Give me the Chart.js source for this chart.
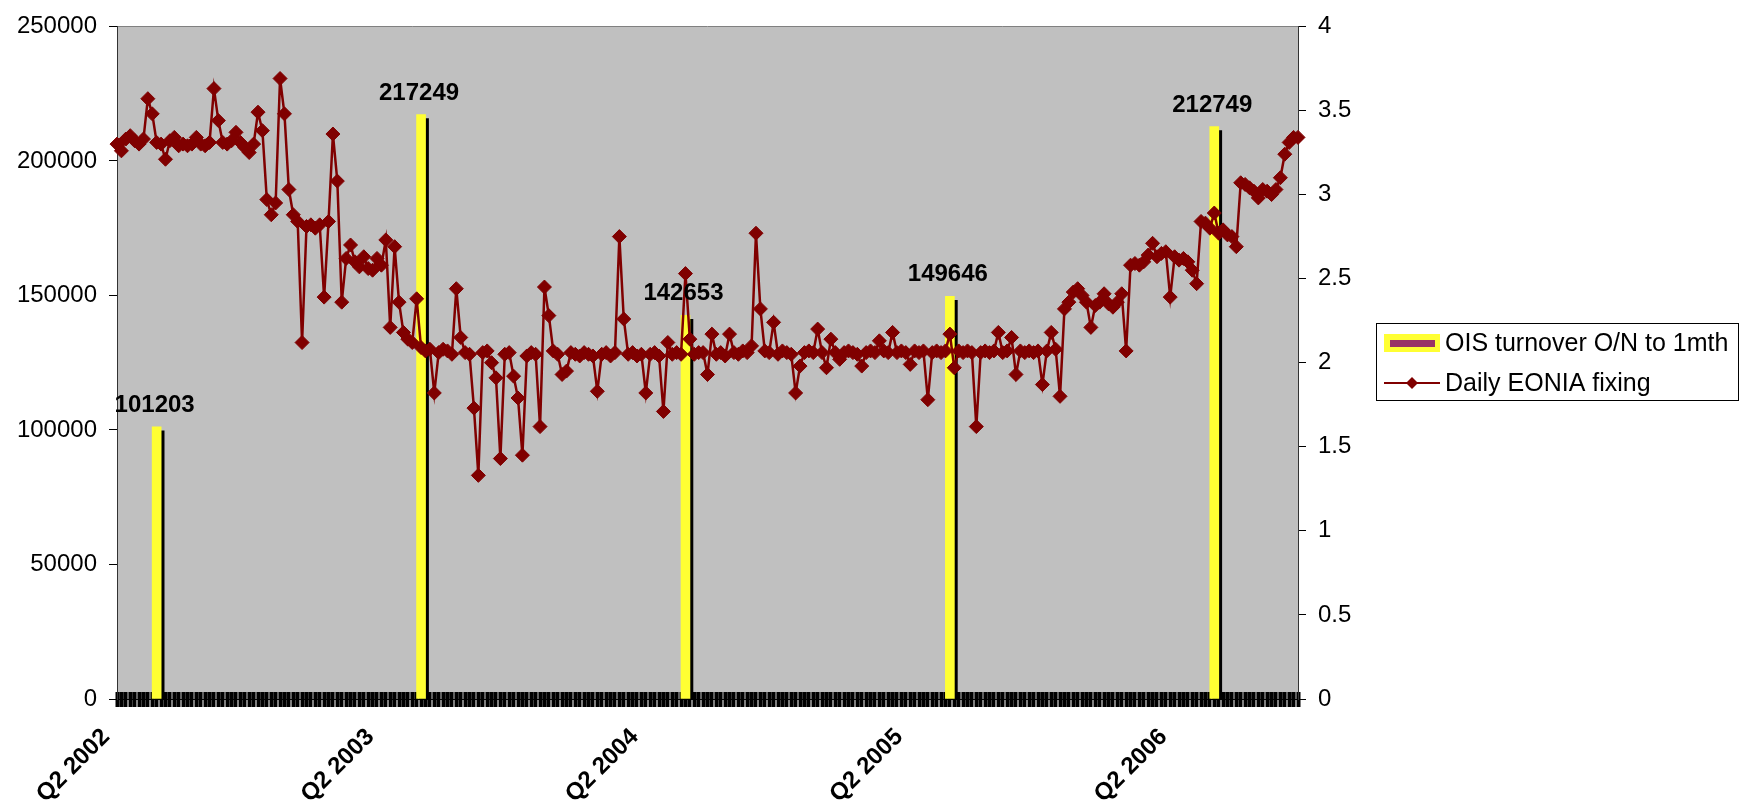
<!DOCTYPE html>
<html>
<head>
<meta charset="utf-8">
<title>OIS turnover and EONIA</title>
<script src="https://cdn.jsdelivr.net/npm/chart.js@4.4.0/dist/chart.umd.min.js"></script>
<style>
  html, body { margin: 0; padding: 0; background: #fff; }
  #wrap { width: 1742px; height: 802px; }
</style>
</head>
<body>
<div id="wrap"><canvas id="eoniaChart" width="1742" height="802"></canvas></div>
<script>
// axis labels (one label per year, 60 samples per year on the category axis)
const yearLabels = ['Q2 2002', 'Q2 2003', 'Q2 2004', 'Q2 2005', 'Q2 2006'];
const samplesPerYear = 60;

// OIS turnover survey (left axis), placed at these sample positions
const surveyIdx = [9, 69, 129, 189, 249];
const oisTurnover = [101203, 217249, 142653, 149646, 212749];

// daily EONIA fixing (right axis)
const eoniaFixing = [
    3.30, 3.26, 3.33, 3.35, 3.32, 3.30, 3.33, 3.57, 3.48, 3.31,
    3.30, 3.21, 3.32, 3.34, 3.29, 3.30, 3.29, 3.30, 3.34, 3.30,
    3.29, 3.31, 3.63, 3.44, 3.31, 3.30, 3.32, 3.37, 3.31, 3.28,
    3.25, 3.30, 3.49, 3.38, 2.97, 2.88, 2.95, 3.69, 3.48, 3.03,
    2.88, 2.84, 2.12, 2.81, 2.82, 2.80, 2.82, 2.39, 2.84, 3.36,
    3.08, 2.36, 2.62, 2.70, 2.60, 2.57, 2.63, 2.56, 2.55, 2.62,
    2.58, 2.73, 2.21, 2.69, 2.36, 2.18, 2.14, 2.12, 2.38, 2.09,
    2.07, 2.08, 1.82, 2.06, 2.08, 2.07, 2.05, 2.44, 2.15, 2.06,
    2.05, 1.73, 1.33, 2.06, 2.07, 2.00, 1.91, 1.43, 2.05, 2.06,
    1.92, 1.79, 1.45, 2.04, 2.06, 2.05, 1.62, 2.45, 2.28, 2.07,
    2.05, 1.93, 1.95, 2.06, 2.05, 2.04, 2.06, 2.05, 2.04, 1.83,
    2.05, 2.06, 2.04, 2.06, 2.75, 2.26, 2.05, 2.06, 2.04, 2.05,
    1.82, 2.05, 2.06, 2.04, 1.71, 2.12, 2.05, 2.06, 2.05, 2.53,
    2.14, 2.05, 2.06, 2.06, 1.93, 2.17, 2.05, 2.06, 2.04, 2.17,
    2.06, 2.05, 2.07, 2.06, 2.10, 2.77, 2.32, 2.07, 2.06, 2.24,
    2.05, 2.07, 2.06, 2.05, 1.82, 1.98, 2.06, 2.07, 2.06, 2.20,
    2.06, 1.97, 2.14, 2.06, 2.02, 2.06, 2.07, 2.06, 2.05, 1.98,
    2.06, 2.07, 2.06, 2.13, 2.07, 2.06, 2.18, 2.06, 2.07, 2.06,
    1.99, 2.07, 2.06, 2.07, 1.78, 2.06, 2.07, 2.06, 2.07, 2.17,
    1.97, 2.07, 2.06, 2.07, 2.06, 1.62, 2.06, 2.07, 2.06, 2.07,
    2.18, 2.06, 2.07, 2.15, 1.93, 2.07, 2.06, 2.07, 2.06, 2.07,
    1.87, 2.07, 2.18, 2.08, 1.80, 2.32, 2.36, 2.42, 2.44, 2.40,
    2.36, 2.21, 2.34, 2.36, 2.41, 2.35, 2.33, 2.36, 2.41, 2.07,
    2.58, 2.59, 2.58, 2.60, 2.64, 2.71, 2.63, 2.65, 2.66, 2.39,
    2.63, 2.61, 2.62, 2.60, 2.55, 2.47, 2.84, 2.83, 2.80, 2.89,
    2.77, 2.79, 2.76, 2.75, 2.69, 3.07, 3.06, 3.04, 3.02, 2.98,
    3.03, 3.02, 3.00, 3.03, 3.10, 3.24, 3.31, 3.34, 3.34
];

const seriesNames = ['OIS turnover O/N to 1mth', 'Daily EONIA fixing'];

const FONT = '"Liberation Sans", Arial, sans-serif';
Chart.defaults.font.family = FONT;
Chart.defaults.color = '#000';

const labels = eoniaFixing.map((v, i) => i % samplesPerYear === 0 ? yearLabels[i / samplesPerYear] : '');
const barData = eoniaFixing.map(() => null);
surveyIdx.forEach((idx, k) => { barData[idx] = oisTurnover[k]; });

function legendIcon(kind) {
    const c = document.createElement('canvas');
    c.width = 56;
    c.height = 20;
    const g = c.getContext('2d');
    if (kind === 'bar') {
        g.fillStyle = '#FFFF33';
        g.fillRect(0, 1, 56, 18);
        g.fillStyle = '#993366';
        g.fillRect(6, 7, 45, 7);
    } else {
        g.strokeStyle = '#800000';
        g.lineWidth = 2;
        g.beginPath();
        g.moveTo(0, 10);
        g.lineTo(56, 10);
        g.stroke();
        g.fillStyle = '#800000';
        g.beginPath();
        g.moveTo(28, 4); g.lineTo(34, 10); g.lineTo(28, 16); g.lineTo(22, 10);
        g.closePath();
        g.fill();
    }
    return c;
}
const legendIcons = [legendIcon('bar'), legendIcon('line')];

// grey plot area with a grey top edge
const plotBackground = {
    id: 'plotBackground',
    beforeDraw(chart) {
        const { ctx, chartArea: a } = chart;
        ctx.save();
        ctx.fillStyle = '#C0C0C0';
        ctx.fillRect(a.left, a.top, a.right - a.left, a.bottom - a.top);
        ctx.strokeStyle = '#808080';
        ctx.lineWidth = 1;
        ctx.beginPath();
        ctx.moveTo(a.left, Math.round(a.top) + 0.5);
        ctx.lineTo(a.right, Math.round(a.top) + 0.5);
        ctx.stroke();
        ctx.restore();
    }
};

// black drop shadow behind the yellow bars
const barShadow = {
    id: 'barShadow',
    beforeDatasetDraw(chart, args) {
        if (args.index !== 0) return;
        const ctx = chart.ctx;
        ctx.save();
        ctx.shadowColor = '#000';
        ctx.shadowOffsetX = 3;
        ctx.shadowOffsetY = 4;
        ctx.shadowBlur = 0;
    },
    afterDatasetDraw(chart, args) {
        if (args.index !== 0) return;
        chart.ctx.restore();
    }
};

// value labels above the bars
const barValueLabels = {
    id: 'barValueLabels',
    afterDatasetsDraw(chart) {
        const ctx = chart.ctx;
        const meta = chart.getDatasetMeta(0);
        const values = chart.data.datasets[0].data;
        ctx.save();
        ctx.font = 'bold 24px ' + FONT;
        ctx.fillStyle = '#000';
        ctx.textAlign = 'center';
        ctx.textBaseline = 'alphabetic';
        meta.data.forEach((bar, i) => {
            if (values[i] == null) return;
            ctx.fillText(String(values[i]), bar.x - 2, bar.y - 15);
        });
        ctx.restore();
    }
};

// framed legend to the right of the value axis
const legendBox = {
    id: 'legendBox',
    afterDraw(chart) {
        const ctx = chart.ctx;
        const a = chart.chartArea;
        const left = Math.round(a.right) + 78;
        const right = chart.width - 4;
        const mid = Math.round((a.top + a.bottom) / 2);
        const top = mid - 40;
        const bottom = mid + 37;
        ctx.save();
        ctx.strokeStyle = '#000';
        ctx.lineWidth = 1;
        ctx.strokeRect(left + 0.5, top + 0.5, right - left, bottom - top);
        ctx.font = '25px ' + FONT;
        ctx.fillStyle = '#000';
        ctx.textAlign = 'left';
        ctx.textBaseline = 'middle';
        seriesNames.forEach((name, i) => {
            const y = mid - 20 + i * 40;
            ctx.drawImage(legendIcons[i], left + 8, y - 10);
            ctx.fillText(name, left + 69, y + 1);
        });
        ctx.restore();
    }
};

new Chart(document.getElementById('eoniaChart'), {
    type: 'bar',
    data: {
        labels: labels,
        datasets: [{
            type: 'bar',
            label: seriesNames[0],
            data: barData,
            xAxisID: 'x',
            yAxisID: 'y',
            backgroundColor: '#FFFF33',
            borderWidth: 0,
            barThickness: 9,
            order: 2
        }, {
            type: 'line',
            label: seriesNames[1],
            data: eoniaFixing,
            xAxisID: 'x',
            yAxisID: 'y1',
            borderColor: '#800000',
            backgroundColor: '#800000',
            borderWidth: 2.5,
            pointStyle: 'rectRot',
            pointRadius: 7,
            pointBorderWidth: 1,
            pointBackgroundColor: '#800000',
            pointBorderColor: '#800000',
            tension: 0,
            order: 1
        }]
    },
    options: {
        responsive: false,
        animation: false,
        events: [],
        layout: { padding: { top: 21, right: 374, bottom: 0, left: 0 } },
        plugins: {
            tooltip: { enabled: false },
            legend: { display: false }
        },
        scales: {
            x: {
                type: 'category',
                position: 'bottom',
                offset: false,
                grid: { display: false, offset: false, drawTicks: false },
                border: { display: true, color: '#000' },
                ticks: {
                    autoSkip: false,
                    minRotation: 45,
                    maxRotation: 45,
                    padding: 24,
                    labelOffset: -11,
                    color: '#000',
                    font: { size: 24, weight: 'bold' }
                },
                afterFit: s => { s.height = 103; }
            },
            xTicks: {
                type: 'category',
                axis: 'x',
                position: { y: 2580 },
                offset: false,
                grid: { drawOnChartArea: false, offset: false, tickLength: 15, tickWidth: 4, tickColor: '#000' },
                border: { display: false },
                ticks: { display: false, autoSkip: false }
            },
            y: {
                position: 'left',
                min: 0,
                max: 250000,
                ticks: { stepSize: 50000, padding: 12, color: '#000', font: { size: 24 }, callback: v => String(v) },
                grid: { drawOnChartArea: false, tickLength: 8, tickColor: '#000' },
                border: { color: '#333', width: 1 },
                afterFit: s => { s.width = 117; }
            },
            y1: {
                position: 'right',
                min: 0,
                max: 4,
                ticks: { stepSize: 0.5, padding: 12, color: '#000', font: { size: 24 }, callback: v => String(v) },
                grid: { drawOnChartArea: false, tickLength: 8, tickColor: '#000' },
                border: { color: '#333', width: 1 },
                afterFit: s => { s.width = 70; }
            }
        }
    },
    plugins: [plotBackground, barShadow, barValueLabels, legendBox]
});
</script>
</body>
</html>
